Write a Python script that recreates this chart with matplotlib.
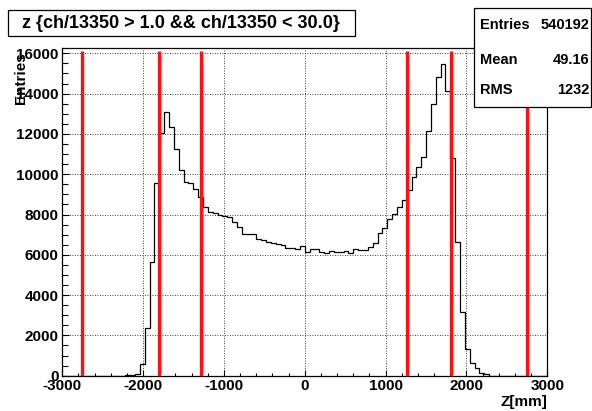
import numpy as np
import matplotlib
matplotlib.use("Agg")
import matplotlib.pyplot as plt
from matplotlib.patches import Rectangle
from matplotlib.ticker import MultipleLocator

plt.rcParams['font.family'] = ['Liberation Sans', 'DejaVu Sans']
plt.rcParams['font.weight'] = 'bold'
plt.rcParams['axes.unicode_minus'] = False

# histogram: 100 bins of 60 mm over [-3000, 3000], non-empty bins start at -2220
z_min, z_max, n_bins = -3000, 3000, 100
first_bin_z = -2220
counts_nonzero = [
    15, 25, 80, 600, 2350, 5660, 9550, 12060, 13100, 12360,
    11235, 10210, 9600, 9550, 9250, 8870, 8360, 8130, 8060, 7985,
    7935, 7870, 7610, 7395, 7050, 7015, 7015, 6785, 6735, 6650,
    6570, 6535, 6485, 6350, 6350, 6270, 6450, 6155, 6270, 6270,
    6120, 6075, 6190, 6155, 6155, 6190, 6105, 6290, 6225, 6225,
    6400, 6570, 7065, 7315, 7760, 8010, 8390, 8720, 9215, 9875,
    10370, 10870, 12145, 13470, 14840, 15470, 14145, 10820, 6650, 3145,
    1325, 645, 400, 150, 70,
]

# red marker lines (z positions in mm) and their height
red_lines_z = [-2755, -1805, -1280, 1270, 1805, 2755]
red_line_top = 16100

title = "z {ch/13350 > 1.0 && ch/13350 < 30.0}"
stats_labels = ["Entries", "Mean", "RMS"]
stats_values = ["540192", "49.16", "1232"]

edges = np.linspace(z_min, z_max, n_bins + 1)
counts = np.zeros(n_bins)
i0 = int(round((first_bin_z - z_min) / (edges[1] - edges[0])))
counts[i0:i0 + len(counts_nonzero)] = counts_nonzero

fig = plt.figure(figsize=(5.92, 4.11), dpi=100)
ax = fig.add_axes([62.3 / 592, 35.3 / 411, 485 / 592, 327.4 / 411])

ax.stairs(counts, edges, color='black', linewidth=0.9)
ax.vlines(red_lines_z, 0, red_line_top, color='#ff1010', linewidth=2.4, zorder=3)

ax.set_xlim(z_min, z_max)
ax.set_ylim(0, 16250)
ax.xaxis.set_major_locator(MultipleLocator(1000))
ax.xaxis.set_minor_locator(MultipleLocator(200))
ax.yaxis.set_major_locator(MultipleLocator(2000))
ax.yaxis.set_minor_locator(MultipleLocator(500))
ax.tick_params(which='both', direction='in', top=False, right=False,
               labelsize=11, width=0.8)
ax.tick_params(axis='x', which='major', length=4.5, pad=2.5)
ax.tick_params(axis='x', which='minor', length=2.5)
ax.tick_params(axis='y', which='major', length=5, pad=2.5)
ax.tick_params(axis='y', which='minor', length=4)
for lab in ax.get_xticklabels() + ax.get_yticklabels():
    lab.set_fontweight('bold')
ax.grid(True, which='major', linestyle=(0, (1, 2)), color='black', linewidth=0.6)
for s in ax.spines.values():
    s.set_linewidth(0.9)

fig.text(547 / 592, 1 - 402 / 411, "Z[mm]", ha='right', va='center',
         fontsize=11, fontweight='bold')
fig.text(21 / 592, 1 - 52 / 411, "Entries", rotation=90, ha='center', va='top',
         fontsize=11, fontweight='bold')

# title box
fig.patches.append(Rectangle((7.5 / 592, 1 - 35.7 / 411), 347.5 / 592, 25.2 / 411,
                             transform=fig.transFigure, facecolor='white',
                             edgecolor='black', linewidth=0.9, zorder=5))
fig.text(181 / 592, 1 - 23 / 411, title, ha='center', va='center',
         fontsize=13, fontweight='bold', zorder=6)

# stats box
fig.patches.append(Rectangle((474 / 592, 1 - 107 / 411), 117 / 592, 98.7 / 411,
                             transform=fig.transFigure, facecolor='white',
                             edgecolor='black', linewidth=0.9, zorder=5))
for lab, val, yc in zip(stats_labels, stats_values, [25, 60, 90]):
    fig.text(480 / 592, 1 - yc / 411, lab, ha='left', va='center',
             fontsize=10.5, fontweight='bold', zorder=6)
    fig.text(589 / 592, 1 - yc / 411, val, ha='right', va='center',
             fontsize=10.5, fontweight='bold', zorder=6)

fig.savefig("out.png", dpi=100)
